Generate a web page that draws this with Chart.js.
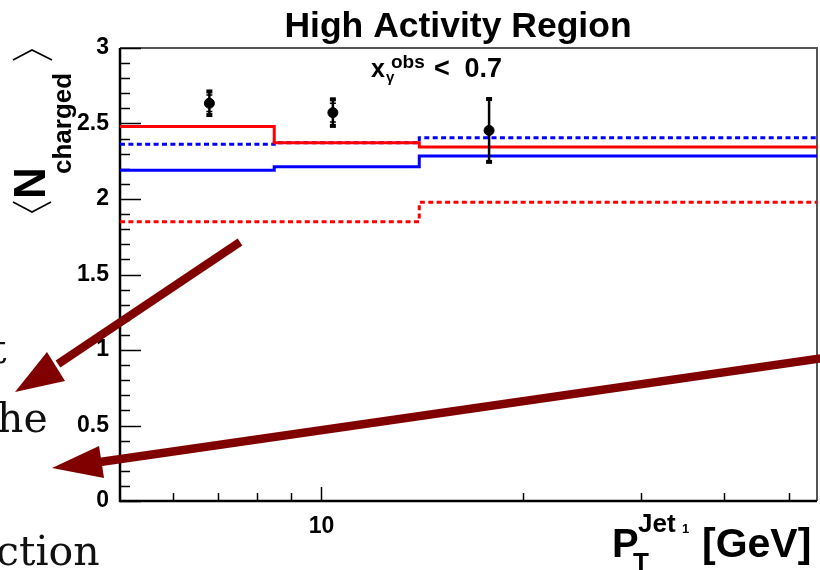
<!DOCTYPE html>
<html>
<head>
<meta charset="utf-8">
<script src="https://cdn.jsdelivr.net/npm/chart.js@4.4.1/dist/chart.umd.min.js"></script>
<style>
html,body{margin:0;padding:0;background:#fff;}
canvas{display:block;}
</style>
</head>
<body>
<canvas id="c" width="820" height="570"></canvas>
<script>
// ---- data ----
const binEdges = [5, 8.5, 14, 55];
const redSolid   = [2.48, 2.372, 2.345];
const blueDashed = [2.362, 2.372, 2.405];
const blueSolid  = [2.19, 2.213, 2.285];
const redDashed  = [1.85, 1.85, 1.978];

const dataX    = [6.8, 10.4, 17.8];
const dataY    = [2.634, 2.572, 2.454];
const errTotal = [0.078, 0.088, 0.208];
const errStat  = [0.055, 0.062, 0.0];

const yTickValues = [0, 0.5, 1, 1.5, 2, 2.5, 3];
const xTickLabels = [10];
const xMinorTicks = [6, 7, 8, 9, 20, 30, 40, 50];

const titleText = 'High Activity Region';

// build step points (left edges + final right edge)
function histPoints(vals) {
  const pts = vals.map((v, i) => ({x: binEdges[i], y: v}));
  pts.push({x: binEdges[binEdges.length - 1], y: vals[vals.length - 1]});
  return pts;
}

const SANS = '"Liberation Sans", Arial, Helvetica, sans-serif';

const overlay = {
  id: 'overlay',
  beforeDraw(chart) {
    const ctx = chart.ctx;
    ctx.save();
    ctx.fillStyle = '#fff';
    ctx.fillRect(0, 0, chart.width, chart.height);
    ctx.restore();
  },
  beforeDatasetsDraw(chart) {
    const ctx = chart.ctx, a = chart.chartArea;
    const xs = chart.scales.x, ys = chart.scales.y;
    ctx.save();
    // frame top/right (grey)
    ctx.strokeStyle = '#555';
    ctx.lineWidth = 2;
    ctx.beginPath();
    ctx.moveTo(a.left, a.top); ctx.lineTo(a.right, a.top); ctx.lineTo(a.right, a.bottom);
    ctx.stroke();
    // y ticks (inside)
    ctx.strokeStyle = '#000';
    ctx.lineWidth = 1.5;
    for (let i = 0; i <= 30; i++) {
      const py = Math.round(ys.getPixelForValue(i / 10)) + 0.5;
      const len = (i % 5 === 0) ? 21 : 10;
      ctx.beginPath(); ctx.moveTo(a.left, py); ctx.lineTo(a.left + len, py); ctx.stroke();
    }
    // x ticks (inside)
    xMinorTicks.forEach(v => {
      const px = Math.round(xs.getPixelForValue(v)) + 0.5;
      ctx.beginPath(); ctx.moveTo(px, a.bottom); ctx.lineTo(px, a.bottom - 8); ctx.stroke();
    });
    xTickLabels.forEach(v => {
      const px = Math.round(xs.getPixelForValue(v)) + 0.5;
      ctx.beginPath(); ctx.moveTo(px, a.bottom); ctx.lineTo(px, a.bottom - 14); ctx.stroke();
    });
    // left & bottom axis lines
    ctx.lineWidth = 2.5;
    ctx.beginPath();
    ctx.moveTo(a.left, a.top); ctx.lineTo(a.left, a.bottom); ctx.lineTo(a.right, a.bottom);
    ctx.stroke();
    ctx.restore();
  },
  afterDatasetsDraw(chart) {
    const ctx = chart.ctx;
    const xs = chart.scales.x, ys = chart.scales.y;
    ctx.save();
    ctx.strokeStyle = '#000';
    ctx.fillStyle = '#000';
    dataX.forEach((x, i) => {
      const px = xs.getPixelForValue(x);
      const yTop = ys.getPixelForValue(dataY[i] + errTotal[i]);
      const yBot = ys.getPixelForValue(dataY[i] - errTotal[i]);
      ctx.lineWidth = 2.5;
      ctx.beginPath(); ctx.moveTo(px, yTop); ctx.lineTo(px, yBot); ctx.stroke();
      ctx.fillRect(px - 3, yTop - 2, 6, 4);
      ctx.fillRect(px - 3, yBot - 2, 6, 4);
      if (errStat[i] > 0) {
        const sTop = ys.getPixelForValue(dataY[i] + errStat[i]);
        const sBot = ys.getPixelForValue(dataY[i] - errStat[i]);
        ctx.lineWidth = 1.5;
        ctx.beginPath();
        ctx.moveTo(px - 3, sTop); ctx.lineTo(px + 3, sTop);
        ctx.moveTo(px - 3, sBot); ctx.lineTo(px + 3, sBot);
        ctx.stroke();
      }
    });
    ctx.restore();
  },
  afterDraw(chart) {
    const ctx = chart.ctx;
    ctx.save();
    ctx.fillStyle = '#000';
    ctx.textBaseline = 'alphabetic';
    ctx.textAlign = 'center';
    // title
    ctx.font = 'bold 35.5px ' + SANS;
    ctx.fillText(titleText, 458, 37);
    // inset label x_gamma^obs < 0.7
    ctx.textAlign = 'left';
    ctx.font = 'bold 25px ' + SANS;
    ctx.fillText('x', 371, 77);
    ctx.font = 'bold 15px ' + SANS;
    ctx.fillText('\u03B3', 386, 82);
    ctx.font = 'bold 19px ' + SANS;
    ctx.fillText('obs', 391, 68);
    ctx.font = 'bold 27px ' + SANS;
    ctx.fillText('<', 434, 77);
    ctx.textAlign = 'right';
    ctx.fillText('0.7', 502, 77);
    ctx.textAlign = 'left';
    // x title P_T^{Jet_1} [GeV]
    ctx.font = 'bold 40px ' + SANS;
    ctx.fillText('P', 612, 557);
    ctx.font = 'bold 26px ' + SANS;
    ctx.fillText('T', 633, 571);
    ctx.fillText('Jet', 638, 532);
    ctx.font = 'bold 13px ' + SANS;
    ctx.fillText('1', 682, 533);
    ctx.font = 'bold 41px ' + SANS;
    ctx.fillText('[GeV]', 702, 557);
    // y title <N_charged> rotated
    ctx.save();
    ctx.rotate(-Math.PI / 2);
    ctx.font = 'bold 44px ' + SANS;
    ctx.fillText('N', -199, 45);
    ctx.font = 'bold 26px ' + SANS;
    ctx.fillText('charged', -174, 71);
    ctx.restore();
    ctx.strokeStyle = '#000';
    ctx.lineWidth = 1.6;
    ctx.beginPath();
    ctx.moveTo(13, 202); ctx.lineTo(32, 212); ctx.lineTo(51, 202);
    ctx.moveTo(13, 60); ctx.lineTo(32, 50); ctx.lineTo(52, 60);
    ctx.stroke();
    // slide text fragments on the left
    ctx.font = '41px "DejaVu Serif", serif';
    ctx.fillStyle = '#111';
    ctx.fillText('t', -10, 363);
    ctx.fillText('he', -3, 432);
    ctx.fillText('t', -17, 519);
    ctx.fillText('ction', -4, 565);
    // arrows
    function arrow(tx, ty, bx, by, hx, hy, c1x, c1y, c2x, c2y) {
      ctx.strokeStyle = '#800000';
      ctx.fillStyle = '#800000';
      ctx.lineWidth = 8.5;
      ctx.lineCap = 'butt';
      ctx.beginPath(); ctx.moveTo(tx, ty); ctx.lineTo(bx, by); ctx.stroke();
      ctx.beginPath(); ctx.moveTo(hx, hy); ctx.lineTo(c1x, c1y); ctx.lineTo(c2x, c2y); ctx.closePath(); ctx.fill();
    }
    arrow(240, 242, 58, 364, 15, 392, 47, 352, 65, 381);
    arrow(830, 357, 100, 462, 52, 468, 99, 446, 104, 478);
    ctx.restore();
  }
};

function histDataset(vals, color, dashed) {
  return {
    type: 'line',
    data: histPoints(vals),
    borderColor: color,
    borderWidth: 3,
    borderDash: dashed ? [5, 3.4] : [],
    stepped: 'before',
    pointRadius: 0,
    fill: false,
    tension: 0
  };
}

new Chart(document.getElementById('c'), {
  type: 'line',
  data: {
    datasets: [
      histDataset(redDashed, '#ff0000', true),
      histDataset(blueSolid, '#0000ff', false),
      histDataset(redSolid, '#ff0000', false),
      histDataset(blueDashed, '#0000ff', true),
      {
        type: 'scatter',
        data: dataX.map((x, i) => ({x: x, y: dataY[i]})),
        backgroundColor: '#000',
        borderColor: '#000',
        pointRadius: 5,
        pointStyle: 'circle',
        showLine: false
      }
    ]
  },
  options: {
    responsive: false,
    animation: false,
    devicePixelRatio: 1,
    layout: {autoPadding: false, padding: {left: 0, right: 3, top: 48, bottom: 0}},
    plugins: {legend: {display: false}, tooltip: {enabled: false}, title: {display: false}},
    scales: {
      x: {
        type: 'logarithmic',
        min: 5, max: 55,
        grid: {display: false, drawTicks: false},
        border: {display: false},
        ticks: {
          autoSkip: false,
          maxRotation: 0,
          padding: 12,
          color: '#000',
          font: {family: SANS, weight: 'bold', size: 23},
          callback: (v) => xTickLabels.includes(v) ? String(v) : ''
        },
        afterFit(s) { s.height = 69; s.paddingRight = 0; s.paddingLeft = 0; }
      },
      y: {
        type: 'linear',
        min: 0, max: 3,
        afterBuildTicks(s) { s.ticks = yTickValues.map(v => ({value: v})); },
        grid: {display: false, drawTicks: false},
        border: {display: false},
        ticks: {
          padding: 11,
          color: '#000',
          font: {family: SANS, weight: 'bold', size: 23},
          callback: (v) => String(v)
        },
        afterFit(s) { s.width = 120; }
      }
    }
  },
  plugins: [overlay]
});
</script>
</body>
</html>
